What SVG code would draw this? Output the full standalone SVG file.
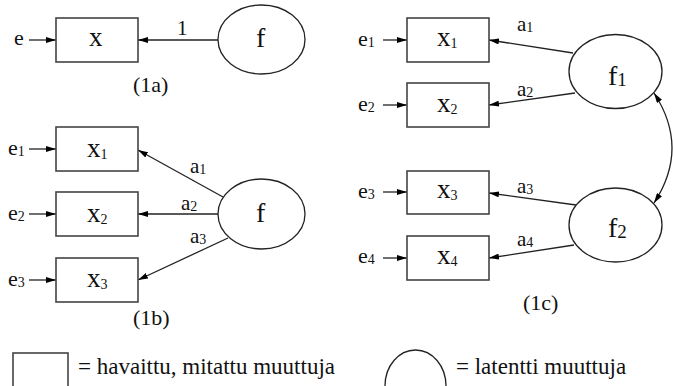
<svg xmlns="http://www.w3.org/2000/svg" width="673" height="386" viewBox="0 0 673 386">
<defs>
<marker id="ah" viewBox="0 0 10 6" refX="10" refY="3" markerWidth="10" markerHeight="6" markerUnits="userSpaceOnUse" orient="auto-start-reverse">
<path d="M0,0 L10,3 L0,6 z" fill="#000"/>
</marker>
</defs>
<style>
.box{fill:#fff;stroke:#444;stroke-width:1.6}
.lat{fill:#fff;stroke:#222;stroke-width:1.3}
.con{fill:none;stroke:#222;stroke-width:1.3;marker-end:url(#ah)}
text{font-family:'Liberation Serif','DejaVu Serif',serif;fill:#111}
.v{font-size:27px}
.f{font-size:28px}
.e{font-size:22px}
.s{font-size:14px}
.lab{font-size:21px}
.cap{font-size:22px}
.leg{font-size:23px}
</style>
<rect width="673" height="386" fill="#fff"/>
<g id="connectors">
<line class="con" x1="29" y1="40" x2="56" y2="40"/>
<line class="con" x1="218" y1="40" x2="138" y2="40"/>
<line class="con" x1="29" y1="149" x2="56" y2="149"/>
<line class="con" x1="29" y1="214" x2="56" y2="214"/>
<line class="con" x1="29" y1="280" x2="56" y2="280"/>
<line class="con" x1="223" y1="197" x2="138" y2="150"/>
<line class="con" x1="218" y1="214" x2="138" y2="214"/>
<line class="con" x1="228" y1="238" x2="138" y2="280"/>
<line class="con" x1="383" y1="40" x2="407" y2="40"/>
<line class="con" x1="383" y1="105" x2="407" y2="105"/>
<line class="con" x1="383" y1="192" x2="407" y2="192"/>
<line class="con" x1="383" y1="258" x2="407" y2="258"/>
<line class="con" x1="573" y1="53" x2="489" y2="40"/>
<line class="con" x1="575" y1="93" x2="489" y2="105"/>
<line class="con" x1="576" y1="205" x2="489" y2="193"/>
<line class="con" x1="574" y1="245" x2="489" y2="258"/>
<path class="con" d="M654,93 Q690,148 654,203" style="marker-start:url(#ah)"/>
</g>
<g font-family="Liberation Serif, DejaVu Serif, serif">
<g id="n1a_x"><rect class="box" x="56" y="18" width="82" height="44"/><text class="v" x="89" y="46">x</text></g>
<g id="n1a_f"><ellipse class="lat" cx="261.5" cy="39.5" rx="43.5" ry="34.5"/><text class="f" x="256" y="47">f</text></g>
<g id="n1a_e"><text class="e" x="14" y="45">e</text></g>
<g id="l1a"><text class="lab" x="177" y="35">1</text><text class="cap" x="133" y="92">(1a)</text></g>

<g id="n1b_x1"><rect class="box" x="56" y="127" width="82" height="44"/><text class="v" x="87" y="157">x<tspan class="s" dy="2">1</tspan></text></g>
<g id="n1b_x2"><rect class="box" x="56" y="192" width="82" height="44"/><text class="v" x="87" y="222">x<tspan class="s" dy="2">2</tspan></text></g>
<g id="n1b_x3"><rect class="box" x="56" y="258" width="82" height="44"/><text class="v" x="87" y="287">x<tspan class="s" dy="2">3</tspan></text></g>
<g id="n1b_f"><ellipse class="lat" cx="261.5" cy="214" rx="43.5" ry="35"/><text class="f" x="256" y="222">f</text></g>
<g id="n1b_e"><text class="e" x="8" y="155">e<tspan class="s" dy="1">1</tspan></text><text class="e" x="8" y="220">e<tspan class="s" dy="1">2</tspan></text><text class="e" x="8" y="286">e<tspan class="s" dy="1">3</tspan></text></g>
<g id="l1b"><text class="lab" x="190" y="173">a<tspan class="s" dy="1">1</tspan></text><text class="lab" x="181" y="210">a<tspan class="s" dy="1">2</tspan></text><text class="lab" x="190" y="243">a<tspan class="s" dy="1">3</tspan></text><text class="cap" x="133" y="325">(1b)</text></g>

<g id="n1c_x1"><rect class="box" x="407" y="18" width="82" height="44"/><text class="v" x="437" y="46">x<tspan class="s" dy="2">1</tspan></text></g>
<g id="n1c_x2"><rect class="box" x="407" y="83" width="82" height="44"/><text class="v" x="437" y="112">x<tspan class="s" dy="2">2</tspan></text></g>
<g id="n1c_x3"><rect class="box" x="407" y="171" width="82" height="43"/><text class="v" x="437" y="198">x<tspan class="s" dy="2">3</tspan></text></g>
<g id="n1c_x4"><rect class="box" x="407" y="236" width="82" height="44"/><text class="v" x="437" y="264">x<tspan class="s" dy="2">4</tspan></text></g>
<g id="n1c_f1"><ellipse class="lat" cx="615.5" cy="71.5" rx="46.5" ry="37"/><text class="f" x="608" y="85">f<tspan style="font-size:19px" dy="1">1</tspan></text></g>
<g id="n1c_f2"><ellipse class="lat" cx="615.5" cy="225" rx="46.5" ry="37"/><text class="f" x="608" y="237">f<tspan style="font-size:19px" dy="1">2</tspan></text></g>
<g id="n1c_e"><text class="e" x="358" y="46">e<tspan class="s" dy="1">1</tspan></text><text class="e" x="358" y="111">e<tspan class="s" dy="1">2</tspan></text><text class="e" x="358" y="198">e<tspan class="s" dy="1">3</tspan></text><text class="e" x="358" y="263">e<tspan class="s" dy="1">4</tspan></text></g>
<g id="l1c"><text class="lab" x="517" y="31">a<tspan class="s" dy="1">1</tspan></text><text class="lab" x="517" y="96">a<tspan class="s" dy="1">2</tspan></text><text class="lab" x="517" y="193">a<tspan class="s" dy="1">3</tspan></text><text class="lab" x="517" y="246">a<tspan class="s" dy="1">4</tspan></text><text class="cap" x="523" y="310">(1c)</text></g>

<g id="legend_obs"><rect class="box" x="13" y="353" width="55" height="50"/><text class="leg" x="78" y="374">= havaittu, mitattu muuttuja</text></g>
<g id="legend_lat"><ellipse class="lat" cx="415.5" cy="386" rx="30.5" ry="36"/><text class="leg" x="456" y="374">= latentti muuttuja</text></g>
</g>
</svg>
